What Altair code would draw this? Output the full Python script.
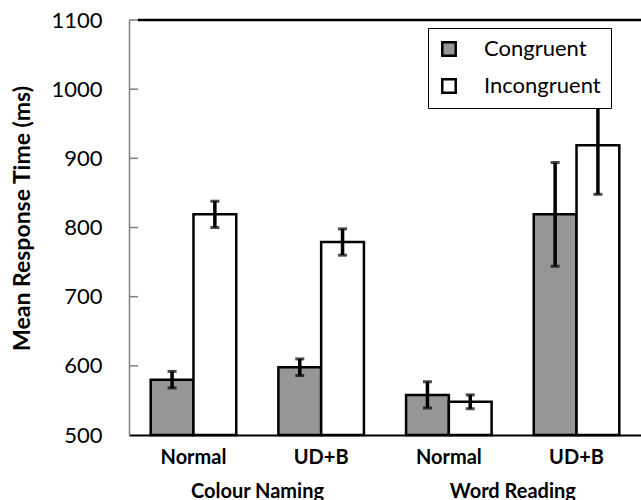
import altair as alt
import pandas as pd

# ---- data ----
categories = ["Colour Naming|Normal", "Colour Naming|UD+B", "Word Reading|Normal", "Word Reading|UD+B"]
conditions = ["Congruent", "Incongruent"]
congruent = [580, 598, 558, 819]
congruent_err = [12, 12, 19, 75]
incongruent = [819, 779, 548, 919]
incongruent_err = [19, 19, 10, 71]
group_names = ["Colour Naming", "Word Reading"]
group_first = ["Colour Naming|Normal", "Word Reading|Normal"]
y_ticks = [500, 600, 700, 800, 900, 1000, 1100]

rows = []
for i, c in enumerate(categories):
    rows.append({"cat": c, "cond": "Congruent", "value": congruent[i],
                 "low": congruent[i] - congruent_err[i], "high": congruent[i] + congruent_err[i]})
    rows.append({"cat": c, "cond": "Incongruent", "value": incongruent[i],
                 "low": incongruent[i] - incongruent_err[i], "high": incongruent[i] + incongruent_err[i]})
df = pd.DataFrame(rows)
groups_df = pd.DataFrame({"group": group_names, "anchor": group_first})
ticks_df = pd.DataFrame({"t": y_ticks[1:]})
top_df = pd.DataFrame({"t": [1100]})

W, H = 512, 415
YT = "Mean Response Time (ms)"
FONT = "Lato"

xscale = alt.Scale(domain=categories, paddingInner=0.33, paddingOuter=0.17)
yscale = alt.Scale(domain=[500, 1100], nice=False, zero=False)

xaxis = alt.Axis(title=None, labelExpr="split(datum.label, '|')[1]", labelFont=FONT,
                 labelFontSize=20, labelFontWeight="bold", labelColor="black", ticks=False,
                 domainColor="black", domainWidth=2, labelPadding=12, labelAngle=0)
yaxis = alt.Axis(values=y_ticks, format="d", ticks=False, domainColor="#7f7f7f", domainWidth=1.5,
                 labelFont=FONT, labelFontSize=22, labelColor="black", labelPadding=27,
                 title=YT, titleFont=FONT, titleFontSize=23, titleFontWeight="bold",
                 titleColor="black", titleX=-95, titleY=198, titleAngle=270,
                 titleAlign="center", titleBaseline="bottom", grid=False)

base = alt.Chart(df).encode(
    x=alt.X("cat:N", sort=categories, scale=xscale, axis=xaxis),
    xOffset=alt.XOffset("cond:N", sort=conditions,
                        scale=alt.Scale(domain=conditions, paddingInner=0, paddingOuter=0)),
)

bars = base.mark_bar(stroke="black", strokeWidth=2.5).encode(
    y=alt.Y("value:Q", scale=yscale, axis=yaxis, title=YT),
    y2=alt.datum(500),
    fill=alt.Fill("cond:N", sort=conditions,
                  scale=alt.Scale(domain=conditions, range=["#969696", "#ffffff"]),
                  legend=alt.Legend(orient="none", legendX=299, legendY=8, title=None,
                                    direction="vertical", symbolType="square", symbolSize=180,
                                    symbolStrokeColor="black", symbolStrokeWidth=2.5,
                                    labelFont=FONT, labelFontSize=22, labelColor="black",
                                    labelOffset=24, rowPadding=13, padding=10, labelLimit=400,
                                    strokeColor="black", fillColor="white", zindex=5)),
)

err = base.mark_rule(color="black", strokeWidth=3.5).encode(
    y=alt.Y("low:Q", scale=yscale, title=YT), y2="high:Q")
cap_low = base.mark_tick(orient="horizontal", size=9, thickness=3, color="black").encode(
    y=alt.Y("low:Q", scale=yscale, title=YT))
cap_high = base.mark_tick(orient="horizontal", size=9, thickness=3, color="black").encode(
    y=alt.Y("high:Q", scale=yscale, title=YT))

inner_ticks = alt.Chart(ticks_df).mark_rule(strokeWidth=1.5, color="#7f7f7f").encode(
    y=alt.Y("t:Q", scale=yscale, title=YT), x=alt.value(0), x2=alt.value(9))

top_line = alt.Chart(top_df).mark_rule(color="black", strokeWidth=2.5).encode(
    y=alt.Y("t:Q", scale=yscale, title=YT), x=alt.value(9), x2=alt.value(W))

group_labels = alt.Chart(groups_df).mark_text(
    font=FONT, fontSize=20, fontWeight="bold", color="black", dx=64, baseline="alphabetic"
).encode(x=alt.X("anchor:N", sort=categories, scale=xscale), y=alt.value(478), text="group:N")

chart = alt.layer(inner_ticks, top_line, bars, err, cap_low, cap_high, group_labels).properties(
    width=W, height=H,
    autosize=alt.AutoSizeParams(type="none"),
    padding={"left": 129, "top": 20, "right": 0, "bottom": 65},
).configure_view(stroke=None).configure_legend(strokeWidth=2.5).configure(font=FONT)

chart.save("out.html", embed_options={"renderer": "svg", "actions": False})
